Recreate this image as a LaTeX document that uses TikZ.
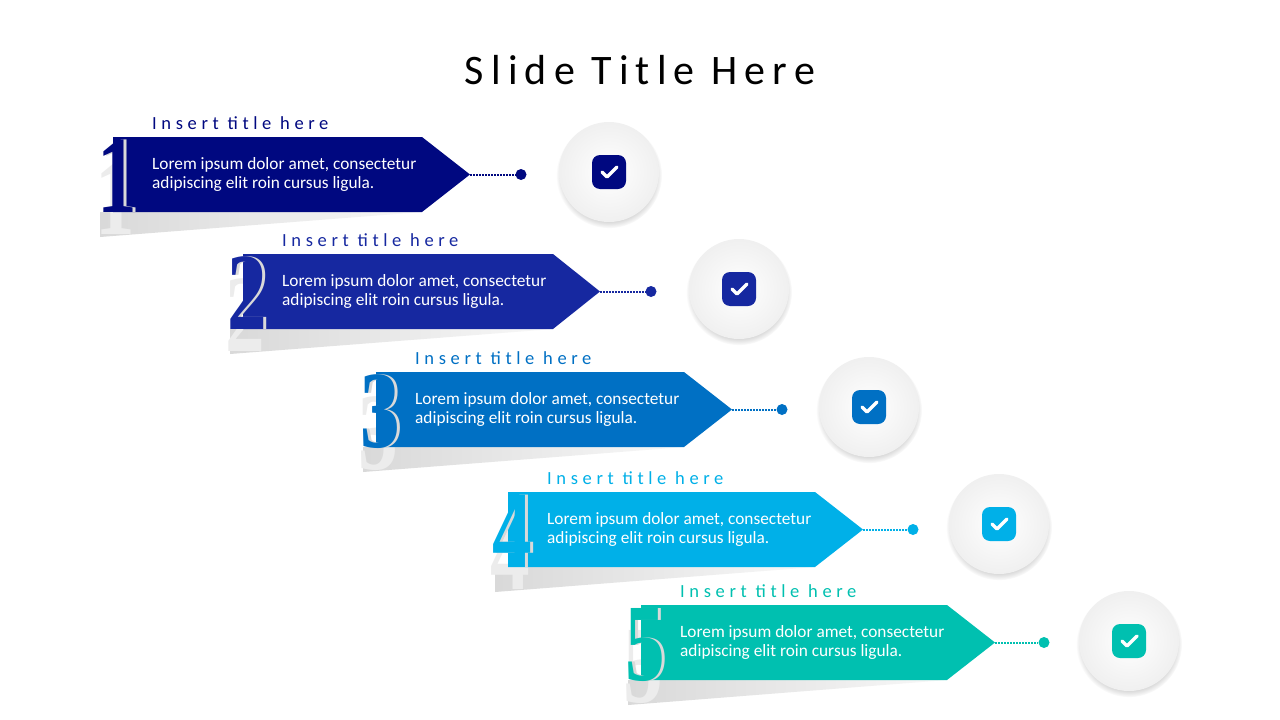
\documentclass[tikz,border=0pt]{standalone}
\usepackage{fontspec}
\setmainfont{Carlito}
\newfontfamily\numfont{Liberation Serif}
\usetikzlibrary{shadows,calc}
\definecolor{cA}{RGB}{0,8,128}
\definecolor{cB}{RGB}{22,40,160}
\definecolor{cC}{RGB}{0,112,196}
\definecolor{cD}{RGB}{0,176,232}
\definecolor{cE}{RGB}{0,192,176}
\tikzset{
 ttl/.style={font=\fontsize{18.5}{20}\selectfont\addfontfeature{LetterSpace=25}, anchor=base west, inner sep=0},
 body/.style={font=\fontsize{17.3}{19.5}\selectfont, text=white, anchor=west, align=left, inner sep=0},
 ring/.style={circle, minimum size=100pt, draw=none, inner color=white, outer color=gray!12,
   circular drop shadow={shadow xshift=0pt, shadow yshift=-3pt, shadow scale=1.06, opacity=0.35}},
 conn/.style={densely dotted, line width=2pt},
 digit/.style={font=\numfont\bfseries\fontsize{110}{110}\selectfont, anchor=base west, inner sep=0, xscale=0.72},
}
\begin{document}
\begin{tikzpicture}[x=1pt,y=-1pt]
\useasboundingbox (0,0) rectangle (1280,720);
\fill[white] (0,0) rectangle (1280,720);
\node[font=\fontsize{42}{44}\selectfont\addfontfeature{LetterSpace=17}] (title) at (640,70) {Slide Title Here};
\foreach \i/\c/\L/\T/\R/\tip/\dot/\cx/\cy in {
 1/cA/105/137/422/470/521/609/172,
 2/cB/235/254/553/600/651/739/289,
 3/cC/368/372/684/732/782/869/407,
 4/cD/500/492/815/863/913/999/524,
 5/cE/633/605/947/995/1044/1129/641}{
 \pgfmathsetmacro\B{\T+75}
 \pgfmathsetmacro\M{\T+37.5}
 \shade[left color=gray!30, right color=gray!5] (\L-5,\B) -- (\R,\B) -- (\L-5,\B+25) -- cycle;
 \node[digit, text=gray!15] (g\i) at (\L-10,\B+22) {\i};
 \fill[\c] (\L+8,\T) -- (\R,\T) -- (\tip,\M) -- (\R,\B) -- (\L+8,\B) -- cycle;
 \node[digit, text=gray!30] (h\i) at (\L-5,\B) {\i};
 \node[digit, text=\c] (d\i) at (\L-8,\B) {\i};
 \node[body] (b\i) at (\L+47,\M) {Lorem ipsum dolor amet, consectetur\\adipiscing elit roin cursus ligula.};
 \node[ttl, text=\c] (t\i) at (\L+47,\T-8) {Insert title here};
 \coordinate (tp\i) at (\tip,\M);
 \node[circle, fill=\c, minimum size=11pt, inner sep=0] (p\i) at (\dot,\M) {};
 \draw[conn, \c] (tp\i) -- (p\i);
 \node[ring] (r\i) at (\cx,\cy) {};
 \node[fill=\c, rounded corners=8pt, minimum size=34pt, inner sep=0] (k\i) at (r\i) {};
 \draw[white, line width=3.5pt, line cap=round, line join=round] ($(k\i)+(-7,0)$) -- ($(k\i)+(-2,5)$) -- ($(k\i)+(8,-5)$);
}
\end{tikzpicture}
\end{document}
